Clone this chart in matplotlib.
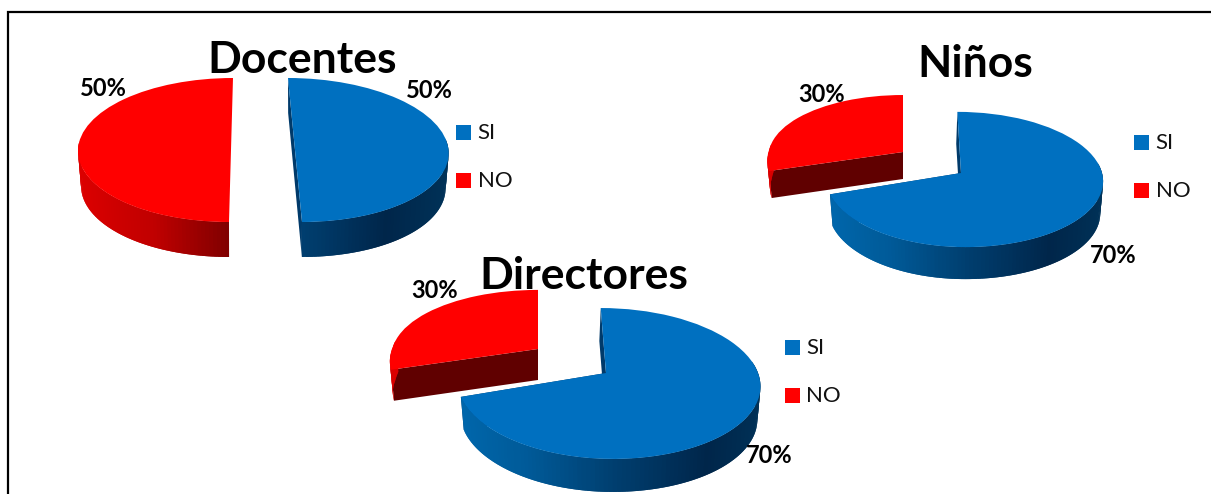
import numpy as np
import matplotlib
matplotlib.use("Agg")
import matplotlib.pyplot as plt
from matplotlib.collections import PolyCollection
from matplotlib.colors import LinearSegmentedColormap
from matplotlib.patches import Polygon, Rectangle
from matplotlib.transforms import Transform

W, H = 1211, 494

# ---- data ----
categories = ["SI", "NO"]
docentes = [50, 50]
ninos = [70, 30]
directores = [70, 30]
titles = ["Docentes", "Niños", "Directores"]

# ---- colours ----
BLUE, RED = "#0070C0", "#FF0000"
blue_wall = LinearSegmentedColormap.from_list("bw", [(0, "#0068AE"), (.25, "#005A98"), (.5, "#003F70"), (.78, "#00264A"), (1, "#003258")])
red_wall = LinearSegmentedColormap.from_list("rw", [(0, "#DC0000"), (.25, "#C00000"), (.5, "#7F0000"), (1, "#600000")])

# ---- layout (pixels): one projection per slice ----
# cx, cy, rxl, rxr, ry, p (perspective), shear (v>0), shear_b (v<0), depth, k (lower rim shrink),
# face (show cut face), fdx (sideways shift of the lower edge of the cut face)
layout = {
    "Docentes": [
        dict(cx=295, cy=150, rxl=154, rxr=153.5, ry=72, p=0.0, shear=-7, shear_b=-7, depth=35, k=.98, face=True, fdx=0),
        dict(cx=231, cy=150, rxl=153, rxr=153, ry=72, p=0.0, shear=2, shear_b=2, depth=35, k=.98, face=False, fdx=0)],
    "Niños": [
        dict(cx=961, cy=173, rxl=135, rxr=141, ry=67, p=.096, shear=-4, shear_b=-4, depth=32, k=.98, face=True, fdx=-1.2),
        dict(cx=903, cy=152, rxl=134, rxr=134, ry=60.4, p=.06, shear=0, shear_b=13, depth=27, k=.98, face=True, fdx=0)],
    "Directores": [
        dict(cx=606, cy=373, rxl=148, rxr=152, ry=74, p=.139, shear=-6, shear_b=-6, depth=33, k=.98, face=True, fdx=-1.5),
        dict(cx=538, cy=349, rxl=145.5, rxr=145.5, ry=65, p=.10, shear=0, shear_b=13, depth=31, k=.98, face=True, fdx=0)],
}
title_pos = {"Docentes": (302, 60), "Niños": (975, 64), "Directores": (584, 276)}
pct_pos = {"Docentes": [(429, 90), (103, 88)], "Niños": [(1113, 255), (822, 95)], "Directores": [(769, 455), (435, 290)]}
legend_pos = {"Docentes": (456, 125, 48), "Niños": (1134, 135, 48), "Directores": (785, 340, 48)}


def project(xy, s):
    u, v = np.asarray(xy, float).T
    d = 1 + s["p"] * v
    shear = np.where(v < 0, s["shear_b"], s["shear"])
    x = s["cx"] + (np.where(u < 0, s["rxl"], s["rxr"]) * u + shear * v) / d
    y = s["cy"] - s["ry"] * v / d
    return np.column_stack([x, y])


class SliceProjection(Transform):
    input_dims = output_dims = 2
    is_affine = False

    def __init__(self, params):
        super().__init__()
        self.params = params

    def transform_non_affine(self, values):
        return project(values, self.params)


def lower(pts, s):
    out = pts.copy()
    out[:, 0] = s["cx"] + (pts[:, 0] - s["cx"]) * s["k"]
    out[:, 1] = pts[:, 1] + s["depth"]
    return out


fig = plt.figure(figsize=(W / 100, H / 100), dpi=100, facecolor="white")
ax = fig.add_axes([0, 0, 1, 1])


def draw_chart(name, values):
    wedges, _ = ax.pie(values, colors=[BLUE, RED], startangle=90, counterclock=False,
                       radius=1, center=(0, 0), wedgeprops=dict(linewidth=0))
    for wedge, s, cmap in zip(wedges, layout[name], [blue_wall, red_wall]):
        t1, t2 = wedge.theta1, wedge.theta2
        n = max(int((t2 - t1) / 1.5), 2)
        th = np.radians(np.linspace(t1, t2, n + 1))
        rim = np.column_stack([np.cos(th), np.sin(th)])
        top, bot = project(rim, s), lower(project(rim, s), s)
        polys, cols = [], []
        for i in range(n):
            if rim[i:i + 2, 1].min() > 0.12:
                continue
            # each strip runs on under the next one, so no seams show between them
            j = min(i + 2, n)
            polys.append([top[i], top[j], bot[j], bot[i]])
            cols.append(cmap((rim[i:i + 2, 0].mean() + 1) / 2))
        ax.add_collection(PolyCollection(polys, facecolors=cols, edgecolors="none", linewidths=0, zorder=2))
        if s["face"]:
            face_col = cmap(1.0) if cmap is red_wall else "#003A6A"
            centre = project([[0, 0]], s)
            for a, dx in ((top[0], 0), (top[-1], s["fdx"])):
                p = np.vstack([centre, a[None, :]])
                q = lower(p, s)
                q[:, 0] += dx
                ax.add_patch(Polygon(np.vstack([p, q[::-1]]), facecolor=face_col, edgecolor="none", lw=0, zorder=1.9))
        wedge.set_transform(SliceProjection(s) + ax.transData)
        wedge.set_zorder(3)
    x0, y0, gap = legend_pos[name]
    for i, (cat, col) in enumerate(zip(categories, [BLUE, RED])):
        ax.add_patch(Rectangle((x0, y0 + i * gap), 15, 15, facecolor=col, edgecolor="none", zorder=4))
        ax.text(x0 + 21.5, y0 + i * gap + 7.5, cat, fontsize=16, family="Lato", color="#111111", va="center", ha="left", zorder=5)
    for v, (x, y) in zip(values, pct_pos[name]):
        ax.text(x, y, f"{v}%", fontsize=17, family="Lato", fontweight="bold", color="black", ha="center", va="center", zorder=5)
    x, y = title_pos[name]
    ax.text(x, y, name, fontsize=32, family="Lato", fontweight="bold", color="black", ha="center", va="center", zorder=5)


for name, vals in zip(titles, [docentes, ninos, directores]):
    draw_chart(name, vals)

ax.set_aspect("auto")
ax.set_xlim(0, W)
ax.set_ylim(H, 0)
ax.plot([7.5, 7.5, W], [H, 12.5, 12.5], color="black", lw=1.6, solid_joinstyle="miter", zorder=1)
ax.set_axis_off()
fig.savefig("out.png", dpi=100, facecolor="white")
